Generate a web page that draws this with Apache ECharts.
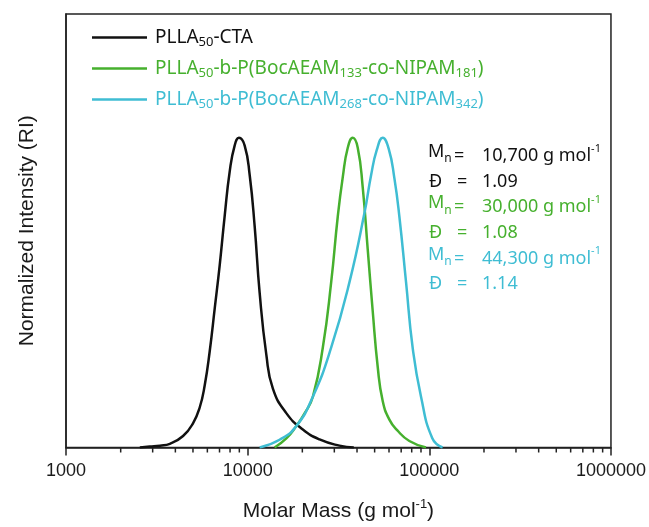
<!DOCTYPE html>
<html>
<head>
<meta charset="utf-8">
<script src="https://cdn.jsdelivr.net/npm/echarts@6/dist/echarts.min.js"></script>
<style>html,body{margin:0;padding:0;background:#fff;}#c{width:649px;height:527px;}</style>
</head>
<body>
<div id="c"></div>
<script>
// ---- data ----
const blackMass = [2550, 2890, 3290, 3730, 4410, 5010, 5450, 5800, 6180, 6590, 7020, 7480, 7960, 8480, 8960, 9630, 10260, 10930, 11640, 12670, 13770, 16320, 20130, 24870, 32020, 38400];
const blackInt  = [0, 0.003, 0.006, 0.012, 0.037, 0.079, 0.13, 0.2, 0.31, 0.45, 0.59, 0.75, 0.89, 0.975, 1.0, 0.975, 0.88, 0.714, 0.5, 0.3, 0.19, 0.111, 0.058, 0.026, 0.006, 0];

const greenMass = [14070, 16380, 18520, 20570, 22850, 25930, 28830, 31340, 33390, 35570, 37900, 40360, 43000, 45810, 48810, 52000, 55390, 60290, 66710, 77640, 95920];
const greenInt  = [0, 0.03, 0.069, 0.11, 0.164, 0.323, 0.534, 0.746, 0.873, 0.968, 1.0, 0.968, 0.84, 0.64, 0.44, 0.26, 0.15, 0.09, 0.055, 0.021, 0];

const cyanMass = [11640, 14990, 18520, 22850, 28840, 36350, 43940, 47830, 51340, 55390, 59740, 64220, 68420, 74460, 80950, 90030, 103870, 118340];
const cyanInt  = [0, 0.025, 0.069, 0.164, 0.323, 0.534, 0.757, 0.88, 0.96, 1.0, 0.965, 0.87, 0.746, 0.534, 0.323, 0.164, 0.03, 0];

const seriesNames = ['PLLA50-CTA', 'PLLA50-b-P(BocAEAM133-co-NIPAM181)', 'PLLA50-b-P(BocAEAM268-co-NIPAM342)'];
const legendRich = [
  '{n|PLLA}{s|50}{n|-CTA}',
  '{n|PLLA}{s|50}{n|-b-P(BocAEAM}{s|133}{n|-co-NIPAM}{s|181}{n|)}',
  '{n|PLLA}{s|50}{n|-b-P(BocAEAM}{s|268}{n|-co-NIPAM}{s|342}{n|)}'
];
const colors = ['#111111', '#46b02e', '#3fbdd3'];

const xTicks = [1000, 10000, 100000, 1000000];
const minorTicks = [2000, 3000, 4000, 5000, 6000, 7000, 8000, 9000,
  20000, 30000, 40000, 50000, 60000, 70000, 80000, 90000,
  200000, 300000, 400000, 500000, 600000, 700000, 800000, 900000];

const annMn = ['10,700', '30,000', '44,300'];
const annD = ['1.09', '1.08', '1.14'];

// ---- chart ----
const pair = (xs, ys) => xs.map((x, i) => [x, ys[i]]);
const FONT = 'Liberation Sans, Arial, sans-serif';
const LFONT = 'Noto Sans, sans-serif';

const chart = echarts.init(document.getElementById('c'), null, {renderer: 'canvas'});

const annGraphics = [];
const rowY0 = 156, rowDy = 25.6;
for (let i = 0; i < 3; i++) {
  const yM = rowY0 + rowDy * (2 * i);
  const yD = rowY0 + rowDy * (2 * i + 1);
  const c = colors[i];
  annGraphics.push({type: 'text', left: 428, top: yM - 13, style: {text: '{m|M}{s|n}', fill: c, rich: {m: {fontSize: 18, fontFamily: LFONT, lineHeight: 26}, s: {fontSize: 12, fontFamily: LFONT, lineHeight: 16, verticalAlign: 'bottom'}}}});
  annGraphics.push({type: 'text', left: 454, top: yM - 13, style: {text: '=', fill: c, fontSize: 18, fontFamily: LFONT, lineHeight: 26}});
  annGraphics.push({type: 'text', left: 482, top: yM - 13, style: {text: '{v|' + annMn[i] + ' g mol}{p|-1}', fill: c, rich: {v: {fontSize: 18, fontFamily: LFONT, lineHeight: 26}, p: {fontSize: 11, fontFamily: LFONT, lineHeight: 16, verticalAlign: 'top'}}}});
  annGraphics.push({type: 'text', left: 429, top: yD - 13, style: {text: 'Đ', fill: c, fontSize: 18, fontFamily: LFONT, lineHeight: 26}});
  annGraphics.push({type: 'text', left: 457, top: yD - 13, style: {text: '=', fill: c, fontSize: 18, fontFamily: LFONT, lineHeight: 26}});
  annGraphics.push({type: 'text', left: 482, top: yD - 13, style: {text: annD[i], fill: c, fontSize: 18, fontFamily: LFONT, lineHeight: 26}});
}

const option = {
  animation: false,
  backgroundColor: '#ffffff',
  grid: {left: 66, right: 37, top: 14, bottom: 72, show: true, borderColor: '#222', borderWidth: 1.5, backgroundColor: 'transparent'},
  legend: {
    orient: 'vertical', left: 92, top: 28, padding: 0, itemWidth: 55, itemHeight: 2.5, itemGap: 10, icon: 'rect',
    data: seriesNames.map((n, i) => ({name: n, textStyle: {color: colors[i]}, itemStyle: {color: colors[i]}})),
    formatter: name => legendRich[seriesNames.indexOf(name)],
    textStyle: {
      fontFamily: LFONT, fontSize: 19, padding: [0, 0, 0, 3],
      rich: {
        n: {fontSize: 19, fontFamily: LFONT, lineHeight: 23},
        s: {fontSize: 13, fontFamily: LFONT, lineHeight: 15, verticalAlign: 'bottom'}
      }
    }
  },
  xAxis: {
    type: 'log', logBase: 10, min: xTicks[0], max: xTicks[xTicks.length - 1],
    name: '{t|Molar Mass (g mol}{p|-1}{t|)}', nameLocation: 'middle', nameGap: 50,
    nameTextStyle: {rich: {t: {fontSize: 21, fontFamily: FONT, color: '#1a1a1a', lineHeight: 28}, p: {fontSize: 13, fontFamily: FONT, color: '#1a1a1a', lineHeight: 16, verticalAlign: 'top'}}},
    axisLine: {show: true, lineStyle: {color: '#222', width: 1.5}},
    axisTick: {show: true, length: 8, inside: false, lineStyle: {color: '#222', width: 1.5}},
    axisLabel: {fontSize: 18, fontFamily: FONT, color: '#1a1a1a', margin: 15, formatter: v => String(Math.round(v))},
    splitLine: {show: false}, minorTick: {show: false}
  },
  yAxis: {
    type: 'value', min: 0, max: 1.4,
    name: 'Normalized Intensity (RI)', nameLocation: 'middle', nameGap: 28,
    nameTextStyle: {fontSize: 21, fontFamily: FONT, color: '#1a1a1a'},
    axisLine: {show: true, lineStyle: {color: '#222', width: 1.5}},
    axisTick: {show: false}, axisLabel: {show: false}, splitLine: {show: false}
  },
  graphic: annGraphics,
  series: [
    {name: seriesNames[0], type: 'line', data: pair(blackMass, blackInt), symbol: 'none', smooth: 0.5, lineStyle: {color: colors[0], width: 2.5}, itemStyle: {color: colors[0]}},
    {name: seriesNames[1], type: 'line', data: pair(greenMass, greenInt), symbol: 'none', smooth: 0.5, lineStyle: {color: colors[1], width: 2.5}, itemStyle: {color: colors[1]}},
    {name: seriesNames[2], type: 'line', data: pair(cyanMass, cyanInt), symbol: 'none', smooth: 0.5, lineStyle: {color: colors[2], width: 2.5}, itemStyle: {color: colors[2]}},
    {name: 'minor', type: 'custom', clip: false, silent: true, data: minorTicks.map(v => [v, 0]), encode: {x: 0, y: 1},
      renderItem: (params, api) => {
        const p = api.coord([api.value(0), 0]);
        return {type: 'line', shape: {x1: p[0], y1: p[1], x2: p[0], y2: p[1] + 5}, style: {stroke: '#222', lineWidth: 1.5}};
      }}
  ]
};
chart.setOption(option);
</script>
</body>
</html>
